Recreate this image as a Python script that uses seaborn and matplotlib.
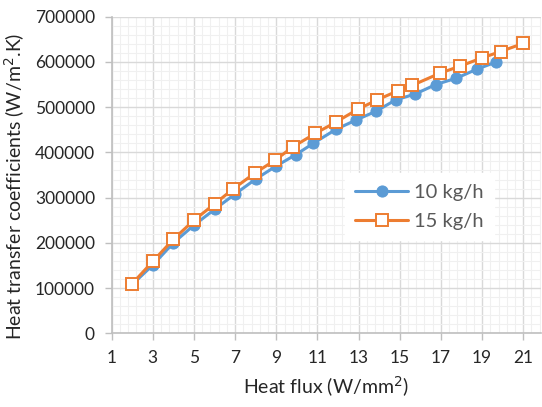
import matplotlib
matplotlib.use("Agg")
import matplotlib.pyplot as plt
import seaborn as sns
import numpy as np
import pandas as pd
from matplotlib.ticker import MultipleLocator, FixedLocator

# data
x_10 = [2, 3, 4, 5, 6, 7, 8, 9, 9.95, 10.8, 11.9, 12.85, 13.85, 14.8, 15.75, 16.75, 17.75, 18.75, 19.7]
y_10 = [108000, 151000, 200000, 239000, 274000, 308000, 341000, 370000, 395000, 420000,
        451000, 471000, 491000, 516000, 529000, 550000, 564000, 584000, 600000]
x_15 = [2, 3, 4, 5, 6, 6.9, 7.95, 8.95, 9.8, 10.9, 11.9, 12.95, 13.9, 14.9, 15.6, 16.95, 17.95, 19, 19.9, 21]
y_15 = [110000, 159000, 208000, 250000, 286000, 319000, 354000, 383000, 412000, 442000,
        467000, 495000, 516000, 536000, 548000, 575000, 591000, 609000, 623000, 641000]
series_names = ["10 kg/h", "15 kg/h"]
x_ticks = [1, 3, 5, 7, 9, 11, 13, 15, 17, 19, 21]
y_ticks = [0, 100000, 200000, 300000, 400000, 500000, 600000, 700000]

sns.set_theme(style="white")
plt.rcParams['font.family'] = ['Lato', 'DejaVu Sans']

blue = "#5B9BD5"
orange = "#ED7D31"
tick_col = "#595959"

fig = plt.figure(figsize=(5.42, 4.07), dpi=100)
ax = fig.add_axes([0.206, 0.181, 0.792, 0.778])

df10 = pd.DataFrame({"x": x_10, "y": y_10})
df15 = pd.DataFrame({"x": x_15, "y": y_15})

sns.lineplot(data=df10, x="x", y="y", ax=ax, color=blue, linewidth=2.2,
             marker="o", markersize=8, markeredgecolor=blue, markerfacecolor=blue,
             label=series_names[0], zorder=3)
sns.lineplot(data=df15, x="x", y="y", ax=ax, color=orange, linewidth=2.2,
             marker="s", markersize=9, markeredgecolor=orange, markerfacecolor="white",
             markeredgewidth=1.4, label=series_names[1], zorder=4)

ax.set_xlim(1, 21.86)
ax.set_ylim(0, 700000)
ax.xaxis.set_major_locator(FixedLocator(x_ticks))
ax.xaxis.set_minor_locator(FixedLocator(np.arange(1.4, 21.9, 0.4)))
ax.yaxis.set_major_locator(FixedLocator(y_ticks))
ax.yaxis.set_minor_locator(MultipleLocator(20000))
ax.set_xticklabels([str(t) for t in x_ticks])
ax.set_yticklabels([str(t) for t in y_ticks])

ax.grid(which="major", color="#d9d9d9", linewidth=1.0, zorder=1)
ax.grid(which="minor", color="#f0f0f0", linewidth=0.8, zorder=0)
ax.set_axisbelow(True)

for s in ["top", "right"]:
    ax.spines[s].set_visible(False)
for s in ["left", "bottom"]:
    ax.spines[s].set_color("#bfbfbf")
    ax.spines[s].set_linewidth(1.2)

ax.tick_params(axis="both", which="major", direction="out", length=5, width=1.0,
               color="#bfbfbf", labelsize=12.5, labelcolor="#262626", pad=7)
ax.tick_params(which="major", bottom=True, left=True)
ax.tick_params(which="minor", length=0)

ax.set_xlabel("Heat flux (W/mm$^2$)", fontsize=14, color="#262626", labelpad=6)
ax.set_ylabel("Heat transfer coefficients (W/m$^2$.K)", fontsize=14, color="#262626")
ax.yaxis.set_label_coords(-0.197, 0.465)

leg = ax.legend(loc="center", bbox_to_anchor=(0.717, 0.40), fontsize=14.5,
                frameon=True, fancybox=False, framealpha=1, edgecolor="white",
                handlelength=2.6, borderpad=0.5, labelspacing=0.6, handletextpad=0.3)
leg.get_frame().set_facecolor("white")
for t in leg.get_texts():
    t.set_color(tick_col)

fig.savefig("out.png", dpi=100)
